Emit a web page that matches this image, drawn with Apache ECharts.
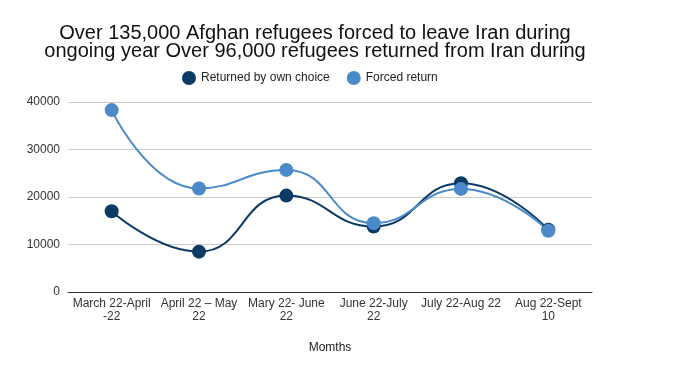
<!DOCTYPE html>
<html><head><meta charset="utf-8">
<script src="https://cdn.jsdelivr.net/npm/echarts@6/dist/echarts.min.js"></script>
<style>html,body{margin:0;padding:0;background:#fff}#c{width:686px;height:380px}</style>
</head><body><div id="c"></div>
<script>
const categories = ["March 22-April\n-22", "April 22 \u2013 May\n22", "Mary 22- June\n22", "June 22-July\n22", "July 22-Aug 22", "Aug 22-Sept\n10"];
const returnedByChoice = [17000, 8500, 20300, 13800, 22900, 13100];
const forcedReturn = [38300, 21800, 25700, 14500, 21700, 12900];
const yTicks = [0, 10000, 20000, 30000, 40000];
const titleText = "Over 135,000 Afghan refugees forced to leave Iran during\nongoing year Over 96,000 refugees returned from Iran during";

const chart = echarts.init(document.getElementById('c'), null, {renderer: 'canvas'});
const font = "Arial, 'Liberation Sans', sans-serif";
chart.setOption({
  animation: false,
  title: {
    text: titleText, left: 310, top: 19, textAlign: 'center',
    textStyle: {fontFamily: font, fontSize: 20, fontWeight: 'normal', color: '#111', lineHeight: 18}
  },
  legend: {
    top: 66, left: 177, itemWidth: 14, itemHeight: 14, itemGap: 17, icon: 'circle',
    textStyle: {fontFamily: font, fontSize: 12, color: '#222'},
    data: ['Returned by own choice', 'Forced return']
  },
  grid: {left: 68, right: 94, top: 102, bottom: 88},
  xAxis: {
    type: 'category', data: categories, boundaryGap: true,
    name: 'Momths', nameLocation: 'middle', nameGap: 50,
    nameTextStyle: {fontFamily: font, fontSize: 12, color: '#222'},
    axisLine: {lineStyle: {color: '#333', width: 1}},
    axisTick: {show: false},
    axisLabel: {fontFamily: font, fontSize: 12, color: '#333', interval: 0, lineHeight: 13, margin: 5}
  },
  yAxis: {
    type: 'value', min: yTicks[0], max: yTicks[yTicks.length - 1], interval: 10000,
    axisLine: {show: false}, axisTick: {show: false},
    axisLabel: {fontFamily: font, fontSize: 12, color: '#333', margin: 8, formatter: v => String(v)},
    splitLine: {lineStyle: {color: '#ccc'}}
  },
  series: [
    {name: 'Returned by own choice', type: 'line', data: returnedByChoice, smooth: 0.5,
     symbol: 'circle', symbolSize: 14, color: '#0b3a66', lineStyle: {width: 2}},
    {name: 'Forced return', type: 'line', data: forcedReturn, smooth: 0.5,
     symbol: 'circle', symbolSize: 14, color: '#4a8ac9', lineStyle: {width: 2}}
  ]
});
</script></body></html>
